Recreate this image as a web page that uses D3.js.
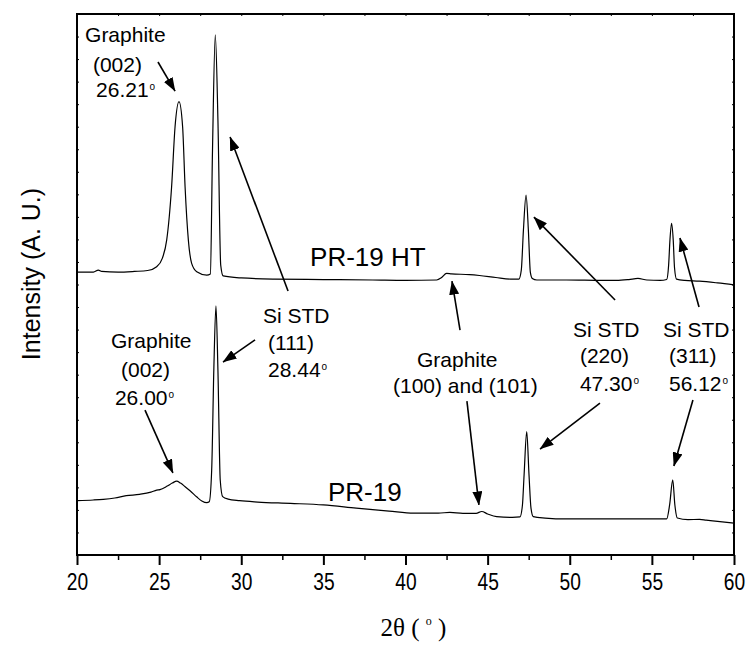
<!DOCTYPE html>
<html><head><meta charset="utf-8">
<script src="https://cdn.jsdelivr.net/npm/d3@7"></script>
<style>body{margin:0;background:#fff}</style>
</head><body><svg id="chart" width="748" height="650"></svg>
<script>
// ---- data (2θ in degrees, intensity in arbitrary units) ----
const seriesHT = [[20.0,1255],[21.0,1255],[21.3,1264],[21.5,1258],[22.5,1255],[23.5,1258],[24.3,1262],[24.85,1279],[25.2,1317],[25.46,1397],[25.76,1634],[25.97,1900],[26.21,2011],[26.43,1900],[26.58,1634],[26.78,1397],[26.98,1294],[27.29,1257],[27.9,1242],[28.12,1247],[28.25,1797],[28.42,2307],[28.58,1930],[28.75,1286],[28.9,1238],[30.0,1229],[32.0,1224],[35.0,1222],[38.0,1220],[40.0,1218],[41.9,1220],[42.2,1231],[42.5,1249],[42.8,1247],[43.9,1244],[44.5,1240],[45.5,1231],[46.4,1224],[46.9,1224],[47.05,1264],[47.18,1442],[47.34,1597],[47.48,1442],[47.6,1255],[47.72,1227],[48.0,1220],[49.8,1220],[52.0,1218],[52.85,1218],[53.6,1222],[54.15,1227],[54.7,1220],[55.5,1218],[55.9,1222],[56.02,1286],[56.1,1397],[56.2,1471],[56.3,1397],[56.38,1273],[56.5,1224],[57.0,1218],[57.9,1215],[59.0,1207],[60.0,1198]];
const seriesPR = [[20.0,241],[21.0,244],[21.6,247],[22.3,253],[23.0,263],[23.8,269],[24.5,279],[24.85,288],[25.05,290],[25.5,306],[25.8,319],[26.07,328],[26.3,319],[26.6,302],[26.9,284],[27.3,257],[27.6,240],[27.9,232],[28.05,236],[28.2,377],[28.33,821],[28.46,1105],[28.58,821],[28.72,333],[28.87,259],[29.2,248],[29.9,241],[31.0,235],[33.0,229],[35.0,222],[37.0,208],[39.0,195],[40.5,186],[42.0,186],[42.7,189],[43.5,185],[44.3,185],[44.64,193],[45.0,182],[45.55,170],[46.5,167],[46.97,169],[47.12,222],[47.22,355],[47.38,547],[47.52,355],[47.64,208],[47.78,170],[48.5,164],[49.8,160],[52.0,160],[54.0,160],[55.9,160],[56.08,222],[56.27,333],[56.4,222],[56.55,164],[57.2,157],[57.9,158],[58.3,155],[59.0,149],[60.0,141]];
const xTicks = [20,25,30,35,40,45,50,55,60];
const xMinorTicks = [22.5,27.5,32.5,37.5,42.5,47.5,52.5,57.5];
const xTickLabels = ["20","25","30","35","40","45","50","55","60"];
const seriesNames = ["PR-19 HT","PR-19"];
const seriesNamePos = [[34.19,1282],[35.28,240]];
// annotation text: [text, 2θ, intensity, hasDegree]
const annotations = [
  ["Graphite",20.49,2276,false],["(002)",20.97,2143,false],["26.21",21.16,2032,true],
  ["Graphite",22.07,918,false],["(002)",22.68,790,false],["26.00",22.31,665,true],
  ["Si STD",31.32,1029,false],["(111)",31.63,909,false],["28.44",31.63,790,true],
  ["Graphite",40.70,834,false],["(100) and (101)",39.24,719,false],
  ["Si STD",50.20,967,false],["(220)",50.62,852,false],["47.30",50.62,728,true],
  ["Si STD",55.68,967,false],["(311)",56.04,852,false],["56.12",56.04,728,true]
];
// arrows: [from2θ, fromI, to2θ, toI]
const arrows = [
  [24.93,2187,25.97,2058],
  [32.85,1171,29.32,1854],
  [24.14,643,25.84,364],
  [30.84,954,28.89,856],
  [43.32,998,42.83,1215],
  [43.74,683,44.47,222],
  [52.76,1131,47.82,1499],
  [51.84,674,48.19,470],
  [57.87,1100,56.71,1406],
  [57.50,688,56.34,395]
];

// ---- drawing ----
const svg = d3.select("#chart");
const plot = {left:77,right:734,top:14,bottom:555};
const x = d3.scaleLinear().domain([20,60]).range([plot.left,plot.right]);
const y = d3.scaleLinear().domain([0,2400]).range([plot.bottom,plot.top]);
const sans = "'Liberation Sans', Arial, Helvetica, sans-serif";

const defs = svg.append("defs");
defs.append("marker").attr("id","ah").attr("markerUnits","userSpaceOnUse")
  .attr("markerWidth",14).attr("markerHeight",10).attr("viewBox","0 0 14 10")
  .attr("refX",13.5).attr("refY",5).attr("orient","auto")
  .append("path").attr("d","M0,0 L14,5 L0,10 Z").attr("fill","#000");

// curves
const line = d3.line().x(d=>x(d[0])).y(d=>y(d[1])).curve(d3.curveMonotoneX);
[seriesHT, seriesPR].forEach(s=>{
  svg.append("path").datum(s).attr("d",line).attr("fill","none")
    .attr("stroke","#000").attr("stroke-width",1.2).attr("stroke-linejoin","round");
});

// frame
svg.append("rect").attr("x",plot.left).attr("y",plot.top)
  .attr("width",plot.right-plot.left).attr("height",plot.bottom-plot.top)
  .attr("fill","none").attr("stroke","#000").attr("stroke-width",2);

// bottom axis
const gx = svg.append("g").attr("transform",`translate(0,${plot.bottom})`)
  .call(d3.axisBottom(x).tickValues(xTicks).tickSize(10).tickSizeOuter(0)
    .tickFormat((d,i)=>xTickLabels[i]));
gx.select(".domain").remove();
gx.selectAll(".tick line").attr("stroke-width",2);
gx.selectAll(".tick text").attr("y",35).attr("dy",null).attr("fill","#000")
  .attr("transform","scale(0.8,1)")
  .style("font-family",sans).style("font-size","24px");
const gxm = svg.append("g").attr("transform",`translate(0,${plot.bottom})`)
  .call(d3.axisBottom(x).tickValues(xMinorTicks).tickSize(5).tickFormat(""));
gxm.select(".domain").remove();
gxm.selectAll(".tick line").attr("stroke-width",1.5);

// tiny ticks on top, left, right
const gt = svg.append("g").attr("transform",`translate(0,${plot.top})`)
  .call(d3.axisTop(x).tickValues(xTicks.concat(xMinorTicks)).tickSize(-2).tickFormat(""));
gt.select(".domain").remove();
const gl = svg.append("g").attr("transform",`translate(${plot.left},0)`)
  .call(d3.axisLeft(y).ticks(24).tickSize(-2).tickFormat(""));
gl.select(".domain").remove();
const gr = svg.append("g").attr("transform",`translate(${plot.right},0)`)
  .call(d3.axisRight(y).ticks(24).tickSize(-2).tickFormat(""));
gr.select(".domain").remove();

// axis titles
svg.append("text").attr("transform",`translate(40,274) rotate(-90)`)
  .attr("text-anchor","middle").style("font-family",sans).style("font-size","25px")
  .text("Intensity (A. U.)");
const xt = svg.append("text").attr("x",(plot.left+plot.right)/2+8).attr("y",636)
  .attr("text-anchor","middle").style("font-family","'Liberation Serif','Times New Roman',serif")
  .style("font-size","25px");
xt.append("tspan").text("2θ ( ");
xt.append("tspan").text("o").style("font-size","12px").attr("dy",-11);
xt.append("tspan").text(" )").attr("dy",11);

// arrows
svg.append("g").selectAll("line").data(arrows).join("line")
  .attr("x1",d=>x(d[0])).attr("y1",d=>y(d[1])).attr("x2",d=>x(d[2])).attr("y2",d=>y(d[3]))
  .attr("stroke","#000").attr("stroke-width",1.6).attr("marker-end","url(#ah)");

// annotation texts
const at = svg.append("g").selectAll("text").data(annotations).join("text")
  .attr("x",d=>x(d[1])).attr("y",d=>y(d[2]))
  .style("font-family",sans).style("font-size","21px").attr("fill","#000");
at.append("tspan").text(d=>d[0]);
at.filter(d=>d[3]).append("tspan").text("o").style("font-size","10px").attr("dx",1).attr("dy",-7);

// series names
svg.append("g").selectAll("text").data(seriesNames).join("text")
  .attr("x",(d,i)=>x(seriesNamePos[i][0])).attr("y",(d,i)=>y(seriesNamePos[i][1]))
  .style("font-family",sans).style("font-size","26px").attr("fill","#000").text(d=>d);
</script></body></html>
